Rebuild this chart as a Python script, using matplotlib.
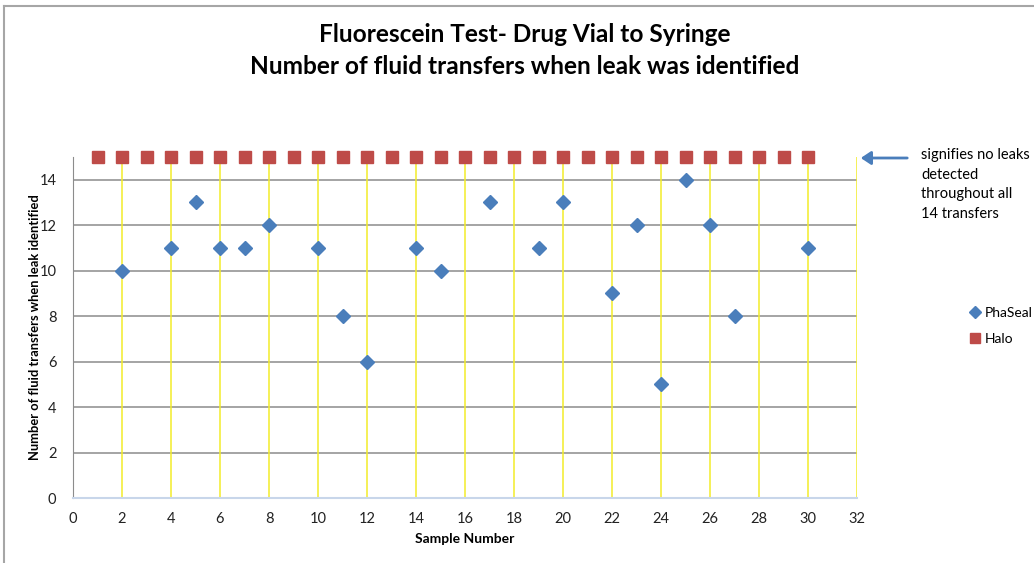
import matplotlib
matplotlib.use("Agg")
import matplotlib.pyplot as plt
from matplotlib.lines import Line2D

plt.rcParams['font.family'] = ['Lato', 'DejaVu Sans']

phaseal_x = [2, 4, 5, 6, 7, 8, 10, 11, 12, 14, 15, 17, 19, 20, 22, 23, 24, 25, 26, 27, 30]
phaseal_y = [10, 11, 13, 11, 11, 12, 11, 8, 6, 11, 10, 13, 11, 13, 9, 12, 5, 14, 12, 8, 11]
halo_x = list(range(1, 31))
halo_y = [15] * 30
x_ticks = list(range(0, 33, 2))
y_ticks = list(range(0, 15, 2))

W, H = 1034, 563
fig = plt.figure(figsize=(W / 100, H / 100), dpi=100)
ax = fig.add_axes([73 / W, 1 - 498 / H, (857 - 73) / W, (498 - 157) / H])

ax.set_xlim(0, 32)
ax.set_ylim(0, 15)
for y in y_ticks[1:]:
    ax.axhline(y, color='#8c8c8c', lw=1.1, zorder=1)
for x in x_ticks[1:]:
    ax.axvline(x, color='#f2ec2a', lw=1.1, zorder=2)

ax.plot(phaseal_x, phaseal_y, 'D', color='#4a7ebb', ms=7.5, mec='#4a7ebb', zorder=5, clip_on=False, label='PhaSeal')
ax.plot(halo_x, halo_y, 's', color='#be4b48', ms=8, mec='#be4b48', zorder=5, clip_on=False, label='Halo')

ax.set_xticks(x_ticks)
ax.set_yticks(y_ticks)
ax.tick_params(length=0, labelsize=10.5, colors='#222222')
ax.tick_params(axis='x', pad=10)
ax.tick_params(axis='y', pad=12)
for s in ['top', 'right']:
    ax.spines[s].set_visible(False)
ax.spines['left'].set_color('#8c8c8c')
ax.spines['bottom'].set_color('#c8d6ea')
ax.spines['bottom'].set_linewidth(1.5)

ax.set_xlabel('Sample Number', fontsize=10, fontweight='bold', labelpad=5)
ax.set_ylabel('Number of fluid transfers when leak identified', fontsize=9.3, fontweight='bold', labelpad=0)
ax.yaxis.set_label_coords((41 - 73) / (857 - 73), 0.5)

fig.text(525 / W, 1 - 35 / H, 'Fluorescein Test- Drug Vial to Syringe', ha='center', va='center',
         fontsize=17.6, fontweight='bold')
fig.text(525 / W, 1 - 67 / H, 'Number of fluid transfers when leak was identified', ha='center', va='center',
         fontsize=17.6, fontweight='bold')

fig.text(921 / W, 1 - 148 / H, 'signifies no leaks\ndetected\nthroughout all\n14 transfers', ha='left', va='top',
         fontsize=10.5, linespacing=1.5)
fig.add_artist(plt.matplotlib.patches.FancyArrowPatch((910 / W, 1 - 158 / H), (858 / W, 1 - 158 / H),
               transform=fig.transFigure, arrowstyle='-|>,head_length=6,head_width=4', color='#4a7ebb',
               lw=2, mutation_scale=1))

handles = [Line2D([], [], marker='D', ls='', color='#4a7ebb', ms=6.5),
           Line2D([], [], marker='s', ls='', color='#be4b48', ms=7.5)]
fig.legend(handles, ['PhaSeal', 'Halo'], loc='upper left', bbox_to_anchor=(967 / W, 1 - 307 / H),
           frameon=False, fontsize=10, handletextpad=0.05, handlelength=1.2, labelspacing=1.0,
           borderaxespad=0, borderpad=0)

fig.add_artist(Line2D([3.5 / W, 3.5 / W], [0, 1 - 6 / H], transform=fig.transFigure, color='#a6a6a6', lw=1.5))
fig.add_artist(Line2D([3.5 / W, 1], [1 - 6 / H, 1 - 6 / H], transform=fig.transFigure, color='#a6a6a6', lw=1.5))

fig.savefig('out.png', dpi=100)
